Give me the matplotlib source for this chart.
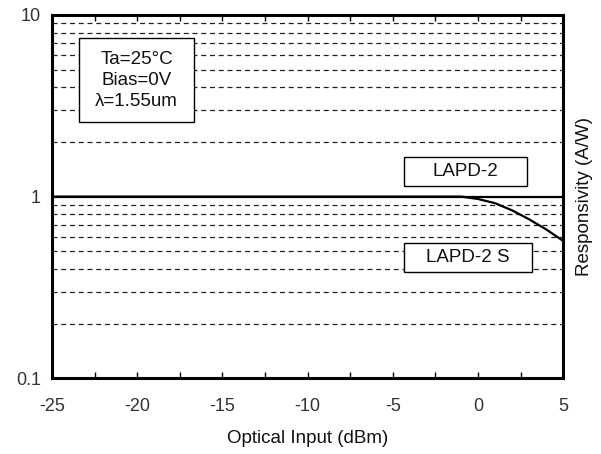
import numpy as np
import matplotlib
matplotlib.use('Agg')
import matplotlib.pyplot as plt
from matplotlib.patches import Rectangle
from matplotlib.ticker import FixedLocator, NullFormatter

plt.rcParams['font.family'] = ['Liberation Sans', 'DejaVu Sans']
plt.rcParams['axes.unicode_minus'] = False

# LAPD-2 (flat) and LAPD-2 S (rolls off at high input)
x_lapd2 = [-25, 5]
y_lapd2 = [1.0, 1.0]
x_lapd2s = [-25, -1, 0, 1, 2, 3, 4, 5]
y_lapd2s = [1.0, 1.0, 0.97, 0.92, 0.84, 0.75, 0.66, 0.57]

xticks = [-25, -20, -15, -10, -5, 0, 5]
yticks = [0.1, 1, 10]
yticklabels = ["0.1", "1", "10"]

fig = plt.figure(figsize=(6.01, 4.54), dpi=100)
ax = fig.add_axes([0.0865, 0.167, 0.8505, 0.8])

# dashed minor grid on log scale
for dec in [0.1, 1]:
    for m in range(2, 10):
        ax.axhline(dec * m, color='#222222', linestyle=(0, (4, 3)), linewidth=0.9, zorder=1)

ax.plot(x_lapd2, y_lapd2, color='black', linewidth=1.6, zorder=3)
ax.plot(x_lapd2s, y_lapd2s, color='black', linewidth=1.6, zorder=3)

ax.set_yscale('log')
ax.set_xlim(-25, 5)
ax.set_ylim(0.1, 10)
ax.set_xticks(xticks)
ax.set_xticklabels([str(v) for v in xticks])
ax.xaxis.set_minor_locator(FixedLocator(np.arange(-22.5, 5, 5)))
ax.set_yticks(yticks)
ax.set_yticklabels(yticklabels)
ax.yaxis.set_minor_locator(FixedLocator([]))
ax.yaxis.set_minor_formatter(NullFormatter())
ax.tick_params(axis='x', which='both', direction='in', top=True, length=4, width=1, labelsize=13, pad=14, colors='black', labelcolor='#333333')
ax.tick_params(axis='y', which='both', length=0, labelsize=13, pad=8, labelcolor='#333333')
for s in ax.spines.values():
    s.set_linewidth(2.2)

ax.set_xlabel('Optical Input (dBm)', fontsize=13.5, labelpad=11, color='#111111')
ax.yaxis.set_label_position('right')
ax.set_ylabel('Responsivity (A/W)', fontsize=13.5, labelpad=9, color='#111111')

# annotation boxes (axes fraction)
boxes = [
    ((0.053, 0.705), 0.225, 0.231, 'Ta=25°C\nBias=0V\nλ=1.55um'),
    ((0.689, 0.529), 0.241, 0.080, 'LAPD-2'),
    ((0.689, 0.292), 0.250, 0.080, 'LAPD-2 S'),
]
for (x0, y0), w, h, txt in boxes:
    ax.add_patch(Rectangle((x0, y0), w, h, transform=ax.transAxes, facecolor='white',
                           edgecolor='black', linewidth=1, zorder=5))
    ax.text(x0 + w / 2, y0 + h / 2, txt, transform=ax.transAxes, ha='center', va='center',
            fontsize=13.5, linespacing=1.3, zorder=6, color='#111111')

fig.savefig('out.png', dpi=100, facecolor='white')
